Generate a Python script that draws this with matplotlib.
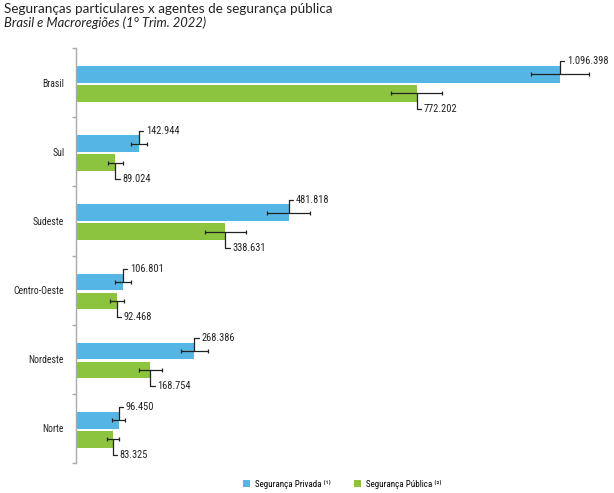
import numpy as np
import matplotlib.pyplot as plt

# Seguranças particulares x agentes de segurança pública, 1º trim. 2022
regioes = ['Brasil', 'Sul', 'Sudeste', 'Centro-Oeste', 'Nordeste', 'Norte']
privada = [1096398, 142944, 481818, 106801, 268386, 96450]
publica = [772202, 89024, 338631, 92468, 168754, 83325]
# margens de erro
erro_privada = [65700, 18800, 49000, 17400, 30000, 14000]
erro_publica = [57800, 16500, 46000, 15900, 25700, 14000]

def fmt(v):
    return f'{v:,}'.replace(',', '.')

cor_priv = '#55B6E6'
cor_pub = '#8CC43F'
narrow = ['Roboto Condensed', 'DejaVu Sans']

fig = plt.figure(figsize=(6.14, 4.93), dpi=100)
ax = fig.add_axes([76/614, 1-463/493, 534/614, 415/493])

y = np.arange(len(regioes))
h = 0.241
b1 = ax.barh(y - 0.118, privada, height=h, color=cor_priv, label='Segurança Privada ⁽¹⁾')
b2 = ax.barh(y + 0.156, publica, height=h, color=cor_pub, label='Segurança Pública ⁽²⁾')
ax.errorbar(privada, y - 0.118, xerr=erro_privada, fmt='none', ecolor='#222222',
            elinewidth=0.9, capsize=1.6, capthick=0.9)
ax.errorbar(publica, y + 0.156, xerr=erro_publica, fmt='none', ecolor='#222222',
            elinewidth=0.9, capsize=1.6, capthick=0.9)

# rotulos com linha de chamada
for i in range(len(regioes)):
    ax.annotate(fmt(privada[i]), xy=(privada[i], y[i] - 0.118), xytext=(7, 13),
                textcoords='offset pixels', ha='left', va='center', fontsize=7.5,
                family=narrow, color='#222222',
                arrowprops=dict(arrowstyle='-', color='#222222', lw=0.9, relpos=(0, 0.5),
                                connectionstyle='angle,angleA=0,angleB=90,rad=0',
                                shrinkA=0, shrinkB=0))
    ax.annotate(fmt(publica[i]), xy=(publica[i], y[i] + 0.156), xytext=(7, -16),
                textcoords='offset pixels', ha='left', va='center', fontsize=7.5,
                family=narrow, color='#222222',
                arrowprops=dict(arrowstyle='-', color='#222222', lw=0.9, relpos=(0, 0.5),
                                connectionstyle='angle,angleA=0,angleB=90,rad=0',
                                shrinkA=0, shrinkB=0))

ax.set_xlim(0, 534/484*1096398)
ax.set_ylim(len(regioes) - 0.5, -0.5)
ax.set_yticks(y)
ax.set_yticklabels(regioes, fontsize=7, family=narrow, color='#222222')
ax.tick_params(axis='y', which='major', length=0, pad=8.5)
ax.set_yticks(np.arange(len(regioes) + 1) - 0.5, minor=True)
ax.tick_params(axis='y', which='minor', length=3, color='#aaaaaa', width=1)
ax.set_xticks([])
for s in ['top', 'right', 'bottom']:
    ax.spines[s].set_visible(False)
ax.spines['left'].set_color('#aaaaaa')
ax.spines['left'].set_linewidth(1)

fig.text(4/614, 1-9/493, 'Seguranças particulares x agentes de segurança pública',
         fontsize=9.7, family='Lato', color='#222222', va='center')
fig.text(4/614, 1-23/493, 'Brasil e Macroregiões (1° Trim. 2022)',
         fontsize=9.4, family='Lato', style='italic', color='#222222', va='center')

leg = fig.legend(handles=[b1, b2], loc='center', bbox_to_anchor=(342/614, 1-484/493),
                 ncol=2, frameon=False, handlelength=0.8, handleheight=0.8,
                 handletextpad=0.5, columnspacing=2.6,
                 prop={'family': narrow, 'size': 6.5})

plt.savefig('out.png', dpi=100)
